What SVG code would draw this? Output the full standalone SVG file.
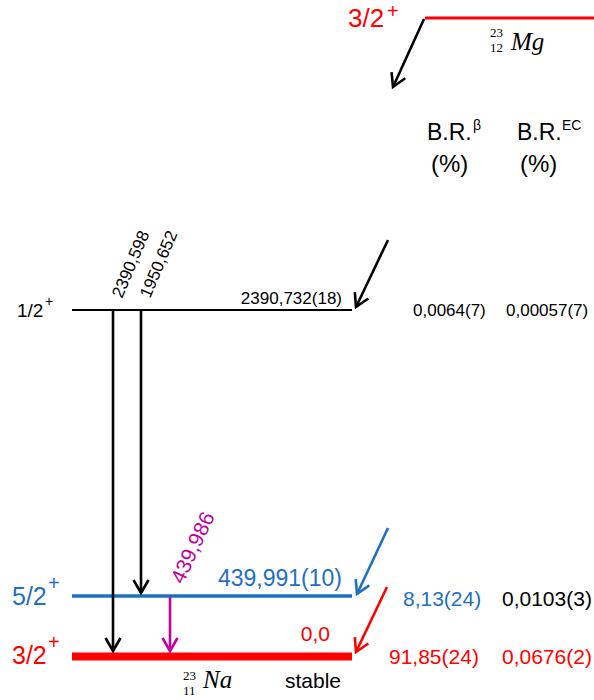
<svg xmlns="http://www.w3.org/2000/svg" width="594" height="700" viewBox="0 0 594 700">
<style>
text{font-family:"Liberation Sans",Arial,sans-serif}
.m{font-family:"Liberation Serif","Times New Roman",serif}
.i{font-style:italic}
.k{fill:#000}.r{fill:#f00}.b{fill:#1f70c1}.p{fill:#c000a0}
.arr{fill:none;stroke-width:2.6}
</style>
<defs>
<marker id="hk" markerUnits="userSpaceOnUse" viewBox="-16 -10 18 20" refX="0" refY="0" markerWidth="18" markerHeight="20" orient="auto"><path d="M-13,-7.5 L0,0 L-13,7.5" fill="none" stroke="#000" stroke-width="2.6"/></marker>
<marker id="hb" markerUnits="userSpaceOnUse" viewBox="-16 -10 18 20" refX="0" refY="0" markerWidth="18" markerHeight="20" orient="auto"><path d="M-13,-7.5 L0,0 L-13,7.5" fill="none" stroke="#1f70c1" stroke-width="2.6"/></marker>
<marker id="hr" markerUnits="userSpaceOnUse" viewBox="-16 -10 18 20" refX="0" refY="0" markerWidth="18" markerHeight="20" orient="auto"><path d="M-13,-7.5 L0,0 L-13,7.5" fill="none" stroke="#f00" stroke-width="2.6"/></marker>
<marker id="hp" markerUnits="userSpaceOnUse" viewBox="-16 -10 18 20" refX="0" refY="0" markerWidth="18" markerHeight="20" orient="auto"><path d="M-13,-7.5 L0,0 L-13,7.5" fill="none" stroke="#c000a0" stroke-width="2.6"/></marker>
</defs>

<g id="mg23">
<line x1="425" y1="18" x2="594" y2="18" stroke="#f00" stroke-width="3"/>
<text class="r" x="348" y="27" font-size="26">3/2</text>
<text class="r" x="387" y="18" font-size="20">+</text>
<text class="m" x="490" y="37" font-size="13">23</text>
<text class="m" x="490" y="52" font-size="13">12</text>
<text class="m i" x="511" y="50" font-size="25">Mg</text>
</g>

<g id="headers">
<text x="427" y="140" font-size="23">B.R.</text>
<text x="473" y="130" font-size="14">β</text>
<text x="431" y="172" font-size="24">(%)</text>
<text x="517" y="140" font-size="23">B.R.</text>
<text x="562" y="130" font-size="14">EC</text>
<text x="520" y="172" font-size="24">(%)</text>
</g>

<g id="level-2390">
<line x1="72" y1="310" x2="352" y2="310" stroke="#000" stroke-width="2"/>
<text x="17" y="317" font-size="19">1/2</text>
<text x="45" y="306" font-size="14">+</text>
<text x="342" y="304" font-size="17" text-anchor="end">2390,732(18)</text>
<text x="413" y="316" font-size="17">0,0064(7)</text>
<text x="506" y="316" font-size="17">0,00057(7)</text>
</g>

<g id="level-440">
<line x1="72" y1="596" x2="352" y2="596" stroke="#1f70c1" stroke-width="3.5"/>
<text class="b" x="12" y="605" font-size="25">5/2</text>
<text class="b" x="48" y="590" font-size="20">+</text>
<text class="b" x="342" y="586" font-size="23" text-anchor="end">439,991(10)</text>
<text class="b" x="403" y="606" font-size="21">8,13(24)</text>
<text class="k" x="502" y="606" font-size="21">0,0103(3)</text>
</g>

<g id="level-0">
<line x1="72" y1="656.5" x2="352" y2="656.5" stroke="#f00" stroke-width="8"/>
<text class="r" x="12" y="664" font-size="25">3/2</text>
<text class="r" x="48" y="649" font-size="20">+</text>
<text class="r" x="330" y="641" font-size="21" text-anchor="end">0,0</text>
<text class="r" x="389" y="664" font-size="21">91,85(24)</text>
<text class="r" x="502" y="664" font-size="21">0,0676(2)</text>
<text class="m" x="183" y="680" font-size="13">23</text>
<text class="m" x="183" y="695" font-size="13">11</text>
<text class="m i" x="203" y="688" font-size="25">Na</text>
<text x="285" y="688" font-size="21">stable</text>
</g>

<g id="connectors">
<line class="arr" x1="424" y1="19" x2="393" y2="87" stroke="#000" marker-end="url(#hk)"/>
<line class="arr" x1="388" y1="240" x2="356" y2="307" stroke="#000" marker-end="url(#hk)"/>
<line class="arr" x1="388" y1="528" x2="357" y2="594" stroke="#1f70c1" marker-end="url(#hb)"/>
<line class="arr" x1="387" y1="587" x2="356" y2="652" stroke="#f00" marker-end="url(#hr)"/>
<line class="arr" x1="113" y1="310" x2="113" y2="651" stroke="#000" marker-end="url(#hk)"/>
<line class="arr" x1="141" y1="310" x2="141" y2="593" stroke="#000" marker-end="url(#hk)"/>
<line class="arr" x1="170" y1="597" x2="170" y2="651" stroke="#c000a0" marker-end="url(#hp)"/>
<text x="122" y="299" font-size="17" transform="rotate(-67 122 299)">2390,598</text>
<text x="150" y="299" font-size="17" transform="rotate(-67 150 299)">1950,652</text>
<text class="p" x="183" y="585" font-size="21" transform="rotate(-65 183 585)">439,986</text>
</g>
</svg>
